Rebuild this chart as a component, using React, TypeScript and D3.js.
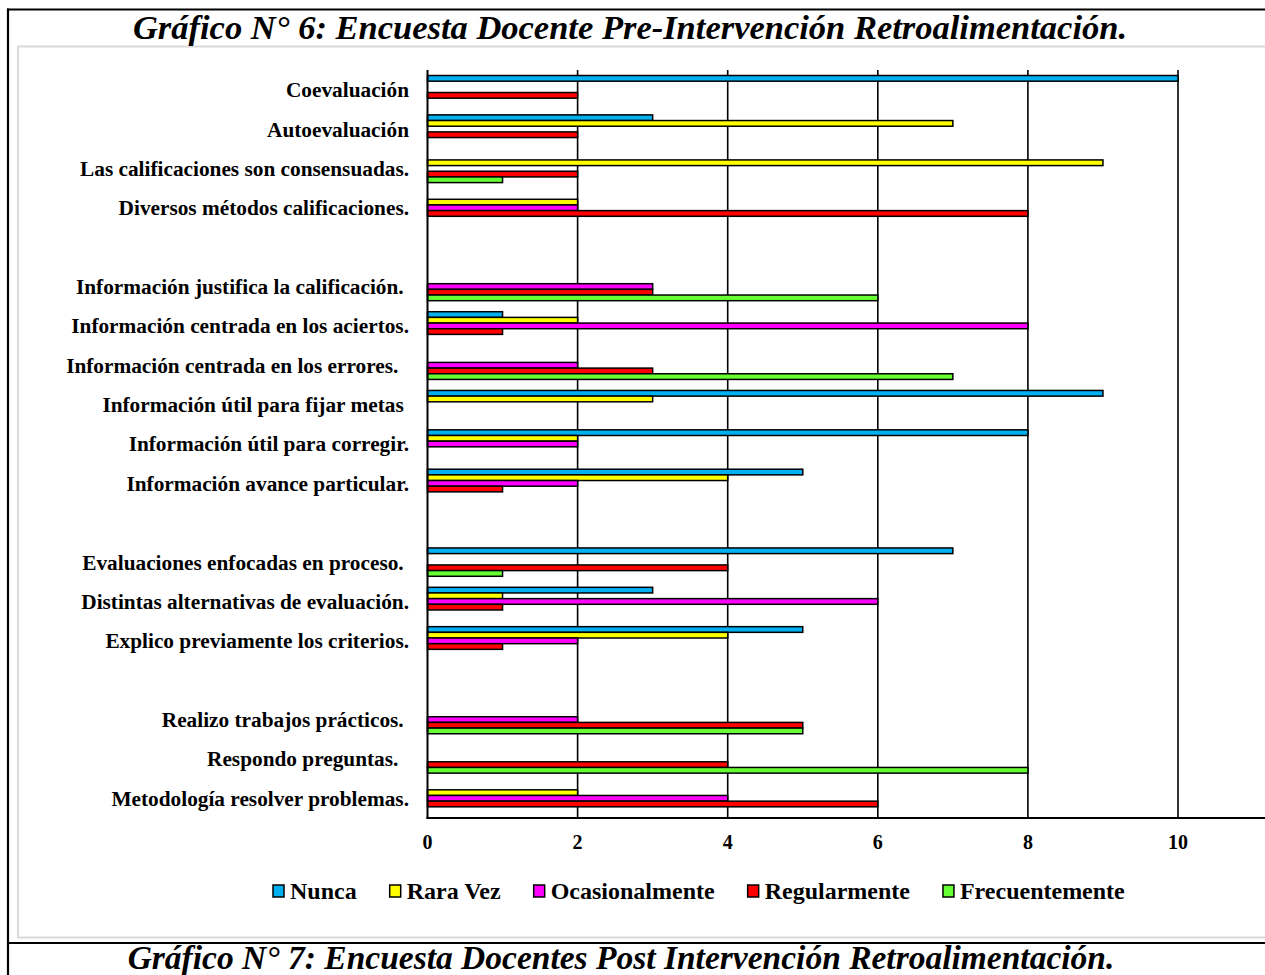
import React, { useEffect, useRef } from "react";
import * as d3 from "d3";

const TITLE = "Gráfico N° 6: Encuesta Docente Pre-Intervención Retroalimentación.";
const NEXT_TITLE = "Gráfico N° 7: Encuesta Docentes Post Intervención Retroalimentación.";

const categories = [
  "Coevaluación",
  "Autoevaluación",
  "Las calificaciones son consensuadas.",
  "Diversos métodos calificaciones.",
  "",
  "Información justifica la calificación. ",
  "Información centrada en los aciertos.",
  "Información centrada en los errores.  ",
  "Información útil para fijar metas ",
  "Información útil para corregir.",
  "Información avance particular.",
  "",
  "Evaluaciones enfocadas en proceso. ",
  "Distintas alternativas de evaluación.",
  "Explico previamente los criterios.",
  "",
  "Realizo trabajos prácticos. ",
  "Respondo preguntas.  ",
  "Metodología resolver problemas.",
];

const seriesNames = ["Nunca", "Rara Vez", "Ocasionalmente", "Regularmente", "Frecuentemente"];
const seriesColors = ["#00B0F0", "#FFFF00", "#FF00FF", "#FF0000", "#66FF33"];

const nunca = [10, 3, 0, 0, 0, 0, 1, 0, 9, 8, 5, 0, 7, 3, 5, 0, 0, 0, 0];
const raraVez = [0, 7, 9, 2, 0, 0, 2, 0, 3, 2, 4, 0, 0, 1, 4, 0, 0, 0, 2];
const ocasionalmente = [0, 0, 0, 2, 0, 3, 8, 2, 0, 2, 2, 0, 0, 6, 2, 0, 2, 0, 4];
const regularmente = [2, 2, 2, 8, 0, 3, 1, 3, 0, 0, 1, 0, 4, 1, 1, 0, 5, 4, 6];
const frecuentemente = [0, 0, 1, 0, 0, 6, 0, 7, 0, 0, 0, 0, 1, 0, 0, 0, 5, 8, 0];

const seriesValues = [nunca, raraVez, ocasionalmente, regularmente, frecuentemente];
const xTickLabels = [0, 2, 4, 6, 8, 10];
const xMax = 12;

const W = 1265;
const H = 975;
const FONT = "'Liberation Serif', 'Times New Roman', serif";

export default function App() {
  const ref = useRef<SVGSVGElement | null>(null);

  useEffect(() => {
    const svg = d3.select(ref.current);
    svg.selectAll("*").remove();

    const plot = { left: 427.5, top: 70, bottom: 818 };
    const x = d3.scaleLinear().domain([0, xMax]).range([plot.left, plot.left + xMax * 75.05]);
    const y = d3
      .scaleBand<number>()
      .domain(d3.range(categories.length))
      .range([plot.top, plot.bottom])
      .paddingInner(0.28)
      .paddingOuter(0.14);
    const ys = d3.scaleBand<number>().domain(d3.range(seriesNames.length)).range([0, y.bandwidth()]);
    const gridTicks = d3.range(2, xMax + 1, 2);

    // outer frame
    svg.append("rect").attr("x", 0).attr("y", 0).attr("width", W).attr("height", H).attr("fill", "#fff");
    svg
      .append("rect")
      .attr("x", 18)
      .attr("y", 46.5)
      .attr("width", 1400)
      .attr("height", 891)
      .attr("fill", "none")
      .attr("stroke", "#d9d9d9")
      .attr("stroke-width", 2);
    svg.append("line").attr("x1", 7).attr("x2", W).attr("y1", 9.5).attr("y2", 9.5).attr("stroke", "#000").attr("stroke-width", 2.2);
    svg.append("line").attr("x1", 8).attr("x2", 8).attr("y1", 8.5).attr("y2", H).attr("stroke", "#000").attr("stroke-width", 2.2);
    svg.append("line").attr("x1", 7).attr("x2", W).attr("y1", 943).attr("y2", 943).attr("stroke", "#000").attr("stroke-width", 2.2);

    svg
      .append("text")
      .attr("x", 630)
      .attr("y", 39)
      .attr("text-anchor", "middle")
      .attr("font-family", FONT)
      .attr("font-weight", "bold")
      .attr("font-style", "italic")
      .attr("font-size", 34.5)
      .text(TITLE);
    svg
      .append("text")
      .attr("x", 621)
      .attr("y", 969)
      .attr("text-anchor", "middle")
      .attr("font-family", FONT)
      .attr("font-weight", "bold")
      .attr("font-style", "italic")
      .attr("font-size", 33.5)
      .text(NEXT_TITLE);

    // gridlines
    svg
      .append("g")
      .selectAll("line")
      .data(gridTicks)
      .join("line")
      .attr("x1", (d) => x(d))
      .attr("x2", (d) => x(d))
      .attr("y1", plot.top)
      .attr("y2", plot.bottom)
      .attr("stroke", "#000")
      .attr("stroke-width", 1.6);

    // bars
    const rows: { c: number; s: number; v: number }[] = [];
    seriesValues.forEach((vals, s) => vals.forEach((v, c) => { if (v > 0) rows.push({ c, s, v }); }));
    svg
      .append("g")
      .selectAll("rect")
      .data(rows)
      .join("rect")
      .attr("x", x(0))
      .attr("y", (d) => (y(d.c) as number) + (ys(d.s) as number))
      .attr("width", (d) => x(d.v) - x(0))
      .attr("height", ys.bandwidth())
      .attr("fill", (d) => seriesColors[d.s])
      .attr("stroke", "#000")
      .attr("stroke-width", 1.5);

    // axes lines
    svg.append("line").attr("x1", x(0)).attr("x2", x(0)).attr("y1", plot.top).attr("y2", plot.bottom + 1).attr("stroke", "#000").attr("stroke-width", 2);
    svg.append("line").attr("x1", x(0) - 1).attr("x2", W).attr("y1", plot.bottom).attr("y2", plot.bottom).attr("stroke", "#000").attr("stroke-width", 2);

    // tick labels
    svg
      .append("g")
      .selectAll("text")
      .data(xTickLabels)
      .join("text")
      .attr("x", (d) => x(d))
      .attr("y", 849)
      .attr("text-anchor", "middle")
      .attr("font-family", FONT)
      .attr("font-weight", "bold")
      .attr("font-size", 20)
      .text((d) => String(d));

    // category labels
    svg
      .append("g")
      .selectAll("text")
      .data(categories)
      .join("text")
      .attr("x", 409)
      .attr("y", (_, i) => (y(i) as number) + y.bandwidth() / 2)
      .attr("dy", "0.35em")
      .attr("text-anchor", "end")
      .attr("font-family", FONT)
      .attr("font-weight", "bold")
      .attr("font-size", 21.3)
      .style("white-space", "pre")
      .text((d) => d);

    // legend
    const legend = svg.append("g").attr("transform", "translate(273,891)");
    let cursor = 0;
    seriesNames.forEach((name, i) => {
      const g = legend.append("g").attr("transform", `translate(${cursor},0)`);
      g.append("rect")
        .attr("x", 0)
        .attr("y", -6)
        .attr("width", 11)
        .attr("height", 12)
        .attr("fill", seriesColors[i])
        .attr("stroke", "#000")
        .attr("stroke-width", 1.5);
      const t = g
        .append("text")
        .attr("x", 17)
        .attr("y", 0)
        .attr("dy", "0.35em")
        .attr("font-family", FONT)
        .attr("font-weight", "bold")
        .attr("font-size", 24)
        .text(name);
      const w = (t.node() as SVGTextElement).getComputedTextLength();
      cursor += 17 + w + 33;
    });
  }, []);

  return (
    <svg
      ref={ref}
      width={W}
      height={H}
      style={{ position: "absolute", left: 0, top: 0, display: "block" }}
    />
  );
}
